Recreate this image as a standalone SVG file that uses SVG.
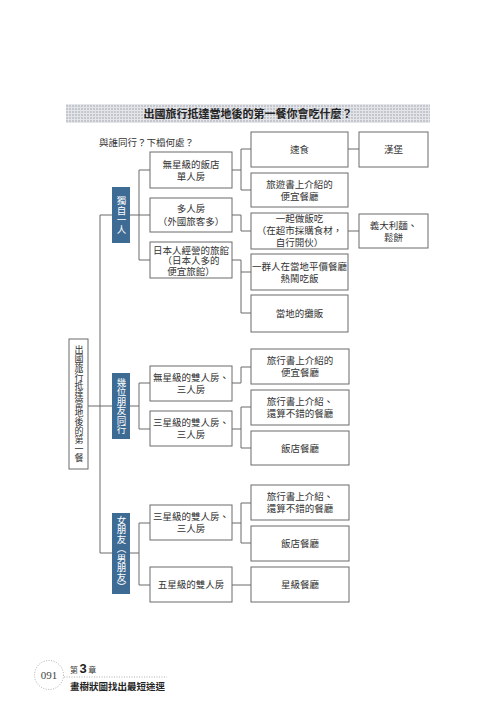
<svg xmlns="http://www.w3.org/2000/svg" width="500" height="717" viewBox="0 0 500 717">
<style>
text{font-family:"Liberation Sans","Noto Sans CJK TC",sans-serif;fill:#333;font-size:9.5px;text-anchor:middle}
.box{fill:#fff;stroke:#6b6b6b;stroke-width:1}
.blue{fill:#3e6b94;stroke:none}
.wt{fill:#fff;font-size:9.5px}
.vt{writing-mode:vertical-rl}
.con path{fill:none;stroke:#6b6b6b;stroke-width:1}
</style>
<defs>
<pattern id="grid" width="3" height="3" patternUnits="userSpaceOnUse">
<rect width="3" height="3" fill="#e4e5e9"/>
<rect width="2" height="2" fill="#c4c6cd"/>
</pattern>
</defs>
<rect width="500" height="717" fill="#fff"/>
<g id="banner">
<rect x="66" y="104" width="364" height="19" fill="url(#grid)"/>
<text x="248" y="117.5" style="font-size:11px;font-weight:bold;fill:#222">出國旅行抵達當地後的第一餐你會吃什麼？</text>
</g>
<text x="99" y="145.5" style="text-anchor:start;font-size:9.5px">與誰同行？下榻何處？</text>
<g class="con">
<path d="M88,406H100M100,215V553M100,215H112M100,406H112M100,553H112"/>
<path d="M130,215H139M139,170V260M139,170H150M139,215H150M139,260H150"/>
<path d="M232,170H241M241,149V190M241,149H251M241,190H251M348,149H359"/>
<path d="M232,215H241V231H251M348,231H359"/>
<path d="M232,260H241M241,260V313M241,272H251M241,313H251"/>
<path d="M130,406H139M139,383V429M139,383H150M139,429H150"/>
<path d="M232,383H241V367H251"/>
<path d="M232,429H241M241,407V448M241,407H251M241,448H251"/>
<path d="M130,553H139M139,523V585M139,523H150M139,585H150"/>
<path d="M232,523H241M241,503V543M241,503H251M241,543H251M232,585H251"/>
</g>
<g id="root">
<rect class="box" x="69" y="339" width="19" height="130"/>
<text class="vt" x="78.5" y="404" style="font-size:9px">出國旅行抵達當地後的第一餐</text>
</g>
<g id="alone">
<rect class="blue" x="112" y="187" width="18" height="56"/>
<text class="wt vt" x="121" y="215">獨自一人</text>
</g>
<g id="friends">
<rect class="blue" x="112" y="373" width="18" height="66"/>
<text class="wt vt" x="121" y="406">幾位朋友同行</text>
</g>
<g id="partner">
<rect class="blue" x="112" y="513" width="18" height="81"/>
<text class="wt vt" x="121" y="553.5">女朋友（男朋友）</text>
</g>
<g id="n-hotel-single">
<rect class="box" x="150" y="152" width="82" height="36"/>
<text x="191" y="167.5">無星級的飯店</text>
<text x="191" y="179.5">單人房</text>
</g>
<g id="n-dorm">
<rect class="box" x="150" y="198" width="82" height="34"/>
<text x="191" y="212">多人房</text>
<text x="191" y="225">（外國旅客多）</text>
</g>
<g id="n-japan">
<rect class="box" x="150" y="242" width="82" height="36"/>
<text x="191" y="253.5">日本人經營的旅館</text>
<text x="191" y="264">（日本人多的</text>
<text x="191" y="274.5">便宜旅館）</text>
</g>
<g id="n-fastfood">
<rect class="box" x="251" y="132" width="97" height="35"/>
<text x="299.5" y="153">速食</text>
</g>
<g id="n-burger">
<rect class="box" x="359" y="132" width="69" height="35"/>
<text x="393.5" y="153">漢堡</text>
</g>
<g id="n-guide1">
<rect class="box" x="251" y="173" width="97" height="34"/>
<text x="299.5" y="187.5">旅遊書上介紹的</text>
<text x="299.5" y="199.5">便宜餐廳</text>
</g>
<g id="n-cook">
<rect class="box" x="251" y="213" width="97" height="36"/>
<text x="299.5" y="221.5">一起做飯吃</text>
<text x="299.5" y="233.5">（在超市採購食材，</text>
<text x="299.5" y="245.5">自行開伙）</text>
</g>
<g id="n-pasta">
<rect class="box" x="359" y="214" width="69" height="34"/>
<text x="393.5" y="228.5">義大利麵、</text>
<text x="393.5" y="240.5">鬆餅</text>
</g>
<g id="n-group">
<rect class="box" x="251" y="254" width="97" height="36"/>
<text x="299.5" y="269.5">一群人在當地平價餐廳</text>
<text x="299.5" y="281.5">熱鬧吃飯</text>
</g>
<g id="n-stall">
<rect class="box" x="251" y="295" width="97" height="37"/>
<text x="299.5" y="317">當地的攤販</text>
</g>
<g id="n-f-nostar">
<rect class="box" x="150" y="366" width="82" height="35"/>
<text x="191" y="381">無星級的雙人房、</text>
<text x="191" y="393">三人房</text>
</g>
<g id="n-f-3star">
<rect class="box" x="150" y="411" width="82" height="35"/>
<text x="191" y="426">三星級的雙人房、</text>
<text x="191" y="438">三人房</text>
</g>
<g id="n-f-guide">
<rect class="box" x="251" y="349" width="98" height="35"/>
<text x="300" y="364">旅行書上介紹的</text>
<text x="300" y="376">便宜餐廳</text>
</g>
<g id="n-f-good">
<rect class="box" x="251" y="390" width="98" height="35"/>
<text x="300" y="405">旅行書上介紹、</text>
<text x="300" y="417">還算不錯的餐廳</text>
</g>
<g id="n-f-hotel">
<rect class="box" x="251" y="431" width="98" height="34"/>
<text x="300" y="451.5">飯店餐廳</text>
</g>
<g id="n-p-3star">
<rect class="box" x="150" y="505" width="82" height="35"/>
<text x="191" y="520">三星級的雙人房、</text>
<text x="191" y="532">三人房</text>
</g>
<g id="n-p-5star">
<rect class="box" x="150" y="567" width="82" height="35"/>
<text x="191" y="588">五星級的雙人房</text>
</g>
<g id="n-p-good">
<rect class="box" x="251" y="485" width="98" height="35"/>
<text x="300" y="500">旅行書上介紹、</text>
<text x="300" y="512">還算不錯的餐廳</text>
</g>
<g id="n-p-hotel">
<rect class="box" x="251" y="526" width="98" height="35"/>
<text x="300" y="547">飯店餐廳</text>
</g>
<g id="n-p-star">
<rect class="box" x="251" y="567" width="98" height="35"/>
<text x="300" y="588">星級餐廳</text>
</g>
<g id="footer">
<circle cx="49" cy="675" r="14.5" fill="none" stroke="#999" stroke-width="0.8" stroke-dasharray="1,1.5"/>
<text x="49" y="679" style="font-family:'Liberation Serif',serif;font-size:11px;fill:#444">091</text>
<path d="M64,677H167" stroke="#999" stroke-width="0.8" stroke-dasharray="1,1.5" fill="none"/>
<text x="70" y="673" style="text-anchor:start;font-size:8px"><tspan>第</tspan><tspan dx="1.5" style="font-size:13px;font-weight:bold;fill:#222">3</tspan><tspan dx="1.5">章</tspan></text>
<text x="70" y="689.5" style="text-anchor:start;font-size:9.5px;font-weight:bold;fill:#222">畫樹狀圖找出最短途逕</text>
</g>
</svg>
